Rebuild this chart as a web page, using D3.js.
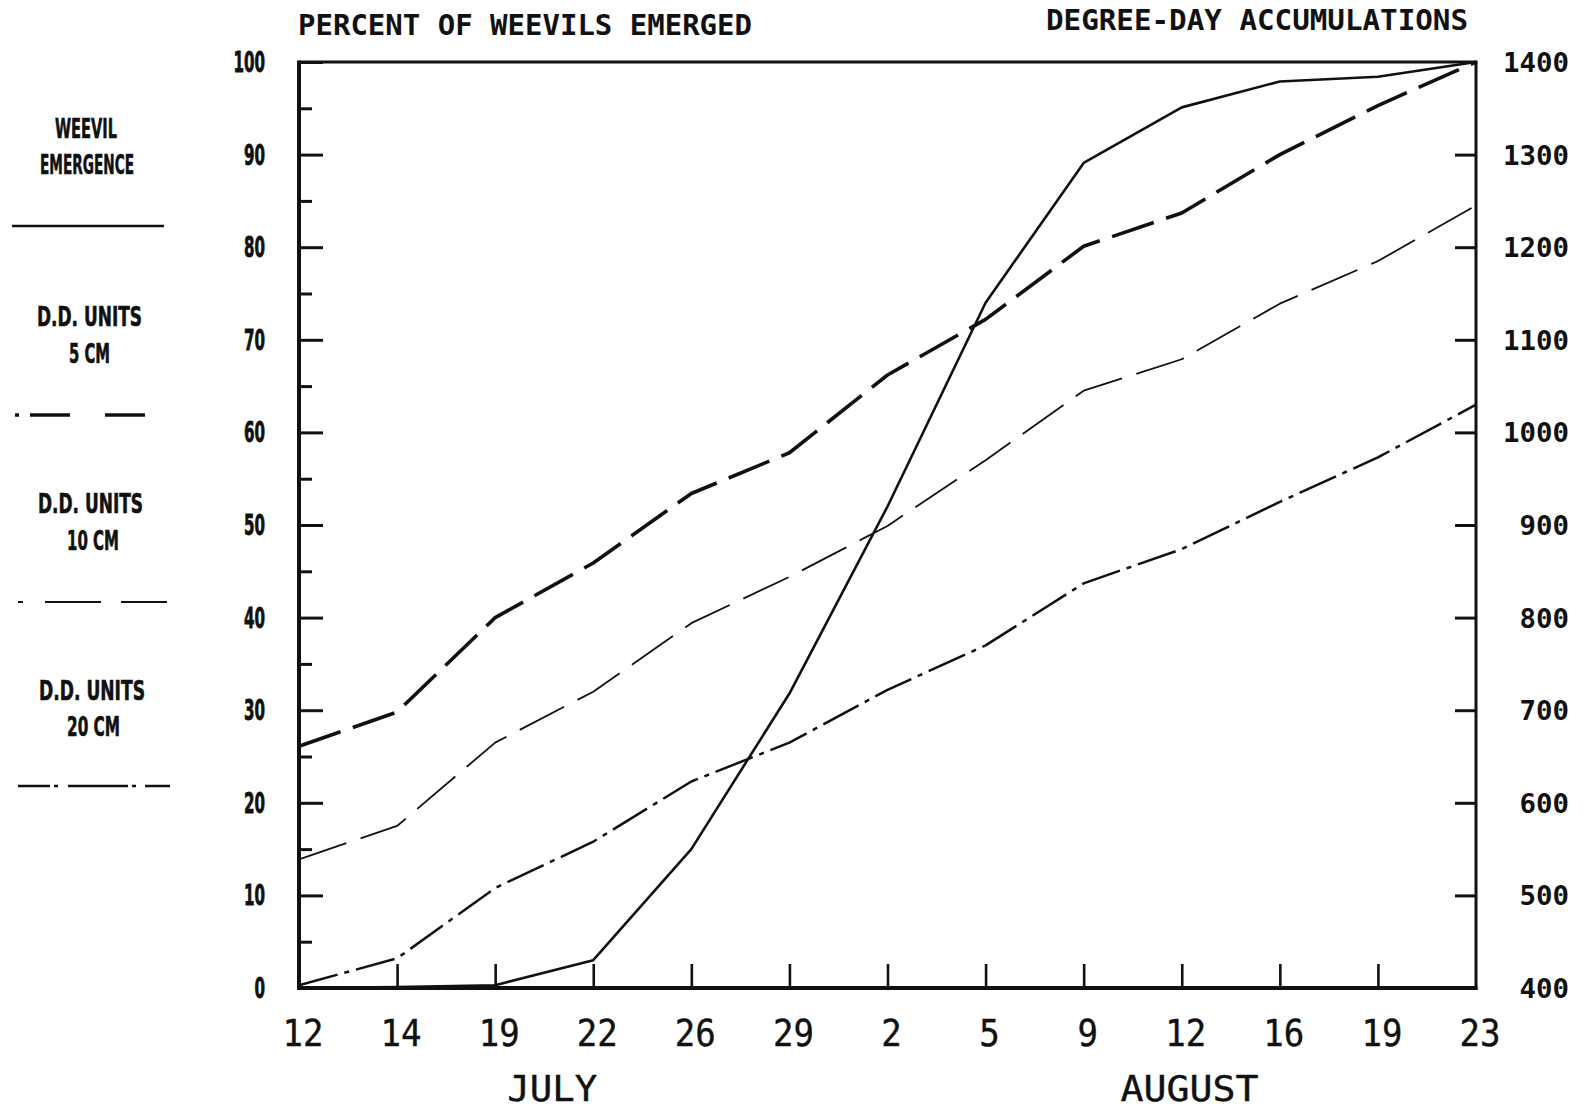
<!DOCTYPE html>
<html>
<head>
<meta charset="utf-8">
<script src="https://cdn.jsdelivr.net/npm/d3@7"></script>
<style>
  body { margin: 0; background: #fff; }
  svg { display: block; }
</style>
</head>
<body>
<svg id="chart" width="1583" height="1110"></svg>
<script>
// Sampling dates (July 12 .. August 23), shown as day numbers
const dayLabels = ["12", "14", "19", "22", "26", "29", "2", "5", "9", "12", "16", "19", "23"];
const months    = ["JUL", "JUL", "JUL", "JUL", "JUL", "JUL", "AUG", "AUG", "AUG", "AUG", "AUG", "AUG", "AUG"];
const dateKeys  = dayLabels.map((d, i) => months[i] + " " + d);

// Cumulative percent of weevils emerged (left axis)
const emergence = [0, 0.1, 0.3, 3.0, 15.0, 31.8, 52.0, 74.0, 89.1, 95.1, 97.9, 98.4, 100];

// Degree-day accumulations by soil depth (right axis)
const dd5cm  = [661, 698, 800, 859, 934, 978, 1062, 1122, 1201, 1237, 1300, 1353, 1400];
const dd10cm = [539, 575, 665, 720, 794, 844, 899, 970, 1045, 1079, 1139, 1185, 1245];
const dd20cm = [403, 432, 508, 558, 623, 665, 722, 770, 837, 874, 925, 973, 1030];

// Axis ticks
const pctTicks = d3.range(0, 101, 5);
const pctLabels = d3.range(0, 101, 10);
const ddTicks = d3.range(400, 1401, 100);

const svg = d3.select("#chart");
const frame = { left: 299, right: 1476, top: 62, bottom: 988 };

const x = d3.scalePoint().domain(dateKeys).range([frame.left, frame.right]);
const yPct = d3.scaleLinear().domain([0, 100]).range([frame.bottom, frame.top]);
const yDD = d3.scaleLinear().domain([400, 1400]).range([frame.bottom, frame.top]);

const ink = "#111";
const monoFont = "'DejaVu Sans Mono', monospace";
const condFont = "'DejaVu Sans Condensed', 'DejaVu Sans', sans-serif";

// ---- Titles ----
svg.append("text")
  .attr("x", 298).attr("y", 35)
  .attr("font-family", monoFont).attr("font-weight", "bold").attr("font-size", 29)
  .attr("textLength", 454).attr("lengthAdjust", "spacingAndGlyphs")
  .attr("fill", ink)
  .text("PERCENT OF WEEVILS EMERGED");

svg.append("text")
  .attr("x", 1046).attr("y", 30)
  .attr("font-family", monoFont).attr("font-weight", "bold").attr("font-size", 28)
  .attr("textLength", 422).attr("lengthAdjust", "spacingAndGlyphs")
  .attr("fill", ink)
  .text("DEGREE-DAY ACCUMULATIONS");

// ---- Left (percent) axis: ticks point inward ----
const leftAxis = d3.axisRight(yPct).tickValues(pctTicks).tickFormat("").tickSizeOuter(0);
const gl = svg.append("g").attr("transform", `translate(${frame.left},0)`).call(leftAxis);
gl.select(".domain").remove();
gl.selectAll(".tick line")
  .attr("x2", d => (d % 10 === 0 ? 24 : 13))
  .attr("stroke", ink).attr("stroke-width", 3);

svg.append("g").selectAll("text")
  .data(pctLabels)
  .join("text")
  .attr("x", 265)
  .attr("y", d => yPct(d) + 10)
  .attr("text-anchor", "end")
  .attr("font-family", condFont).attr("font-weight", "bold").attr("font-size", 28)
  .attr("textLength", d => String(d).length * 10.5).attr("lengthAdjust", "spacingAndGlyphs")
  .attr("fill", ink)
  .attr("stroke", ink).attr("stroke-width", 0.8)
  .text(d => d);

// ---- Right (degree-day) axis: ticks point inward ----
const rightAxis = d3.axisLeft(yDD).tickValues(ddTicks).tickFormat("").tickSize(21).tickSizeOuter(0);
const gr = svg.append("g").attr("transform", `translate(${frame.right},0)`).call(rightAxis);
gr.select(".domain").remove();
gr.selectAll(".tick line").attr("stroke", ink).attr("stroke-width", 3)
  .filter(d => d === 400 || d === 1400).remove();

svg.append("g").selectAll("text")
  .data(ddTicks)
  .join("text")
  .attr("x", 1569)
  .attr("y", d => yDD(d) + 10)
  .attr("text-anchor", "end")
  .attr("font-family", monoFont).attr("font-weight", "bold").attr("font-size", 27)
  .attr("textLength", d => String(d).length * 16.5).attr("lengthAdjust", "spacingAndGlyphs")
  .attr("fill", ink)
  .text(d => d);

// ---- Bottom (date) axis: ticks point up ----
const bottomAxis = d3.axisTop(x).tickFormat("").tickSize(24).tickSizeOuter(0);
const gb = svg.append("g").attr("transform", `translate(0,${frame.bottom})`).call(bottomAxis);
gb.select(".domain").remove();
gb.selectAll(".tick line").attr("stroke", ink).attr("stroke-width", 2.6)
  .filter((d, i) => i === 0 || i === dateKeys.length - 1).remove();

svg.append("g").selectAll("text")
  .data(dateKeys)
  .join("text")
  .attr("x", d => x(d) + 4)
  .attr("y", 1046)
  .attr("text-anchor", "middle")
  .attr("font-family", monoFont).attr("font-size", 37)
  .attr("textLength", (d, i) => dayLabels[i].length * 20.5).attr("lengthAdjust", "spacingAndGlyphs")
  .attr("fill", ink)
  .attr("stroke", ink).attr("stroke-width", 0.4)
  .text((d, i) => dayLabels[i]);

// Month names under the day numbers
const step = x.step();
svg.append("text")
  .attr("x", (x("JUL 19") + x("JUL 22")) / 2 + 8).attr("y", 1101)
  .attr("text-anchor", "middle")
  .attr("font-family", monoFont).attr("font-size", 36)
  .attr("textLength", 90).attr("lengthAdjust", "spacingAndGlyphs")
  .attr("fill", ink).attr("stroke", ink).attr("stroke-width", 0.4)
  .text("JULY");
svg.append("text")
  .attr("x", x("AUG 12") + step * 0.08).attr("y", 1101)
  .attr("text-anchor", "middle")
  .attr("font-family", monoFont).attr("font-size", 36)
  .attr("textLength", 138).attr("lengthAdjust", "spacingAndGlyphs")
  .attr("fill", ink).attr("stroke", ink).attr("stroke-width", 0.4)
  .text("AUGUST");

// ---- Data lines ----
const pctLine = d3.line().x((d, i) => x(dateKeys[i])).y(d => yPct(d));
const ddLine = d3.line().x((d, i) => x(dateKeys[i])).y(d => yDD(d));

const series = [
  { values: dd20cm, gen: ddLine, width: 2.5, dash: "40,7,5,7" },
  { values: dd10cm, gen: ddLine, width: 1.8, dash: "50,15" },
  { values: dd5cm, gen: ddLine, width: 3.6, dash: "44,13" },
  { values: emergence, gen: pctLine, width: 2.6, dash: null }
];

svg.append("g").selectAll("path")
  .data(series)
  .join("path")
  .attr("d", s => s.gen(s.values))
  .attr("fill", "none")
  .attr("stroke", ink)
  .attr("stroke-width", s => s.width)
  .attr("stroke-dasharray", s => s.dash)
  .attr("stroke-linejoin", "round");

// ---- Plot frame ----
const fr = svg.append("g").attr("stroke", ink).attr("fill", "none");
fr.append("line").attr("x1", frame.left).attr("x2", frame.left)
  .attr("y1", frame.top - 1.5).attr("y2", frame.bottom + 2).attr("stroke-width", 4);
fr.append("line").attr("x1", frame.left - 2).attr("x2", frame.right + 1.5)
  .attr("y1", frame.bottom).attr("y2", frame.bottom).attr("stroke-width", 4);
fr.append("line").attr("x1", frame.left).attr("x2", frame.right + 1.5)
  .attr("y1", frame.top).attr("y2", frame.top).attr("stroke-width", 3);
fr.append("line").attr("x1", frame.right).attr("x2", frame.right)
  .attr("y1", frame.top).attr("y2", frame.bottom + 2).attr("stroke-width", 3);

// ---- Legend (left column) ----
const legendText = [
  { t: "WEEVIL", x: 55, y: 138, w: 62 },
  { t: "EMERGENCE", x: 40, y: 174, w: 94 },
  { t: "D.D. UNITS", x: 37, y: 326, w: 105 },
  { t: "5 CM", x: 69, y: 363, w: 41 },
  { t: "D.D. UNITS", x: 38, y: 513, w: 105 },
  { t: "10 CM", x: 67, y: 550, w: 52 },
  { t: "D.D. UNITS", x: 39, y: 700, w: 106 },
  { t: "20 CM", x: 67, y: 736, w: 53 }
];
svg.append("g").selectAll("text")
  .data(legendText)
  .join("text")
  .attr("x", d => d.x).attr("y", d => d.y)
  .attr("font-family", condFont).attr("font-weight", "bold").attr("font-size", 27)
  .attr("textLength", d => d.w).attr("lengthAdjust", "spacingAndGlyphs")
  .attr("fill", ink)
  .attr("stroke", ink).attr("stroke-width", 0.6)
  .text(d => d.t);

const legendLines = [
  { y: 226, x1: 12, x2: 164, width: 2.6, dash: null },
  { y: 415, x1: 15, x2: 146, width: 3.4, dash: "4,11,40,35,40,200" },
  { y: 602, x1: 18, x2: 167, width: 2.2, dash: "5,22,56,20,46,200" },
  { y: 786, x1: 18, x2: 170, width: 2.4, dash: "32,4,4,10,60,4,4,9,30,200" }
];
svg.append("g").selectAll("line")
  .data(legendLines)
  .join("line")
  .attr("x1", d => d.x1).attr("x2", d => d.x2)
  .attr("y1", d => d.y).attr("y2", d => d.y)
  .attr("stroke", ink)
  .attr("stroke-width", d => d.width)
  .attr("stroke-dasharray", d => d.dash);
</script>
</body>
</html>
